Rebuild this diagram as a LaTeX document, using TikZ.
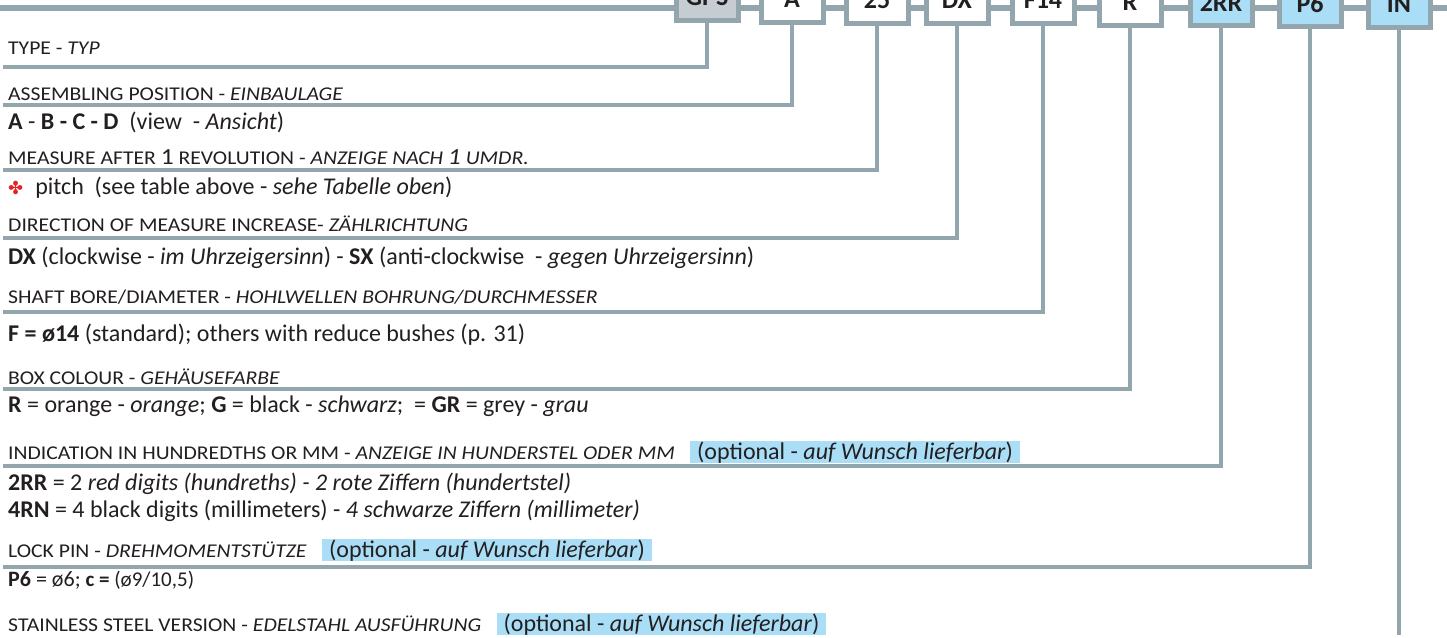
\documentclass[tikz,border=0pt]{standalone}
\usepackage{fontspec}
\setmainfont{Carlito}
\newfontfamily\headfont[FakeStretch=1.11]{Carlito}
\newfontfamily\symfont{DejaVu Sans}
\usetikzlibrary{positioning}

\definecolor{lineg}{RGB}{147,165,173}
\definecolor{boxg}{RGB}{197,205,211}
\definecolor{optblue}{RGB}{170,222,247}
\definecolor{inkc}{RGB}{35,31,32}
\definecolor{markred}{RGB}{226,35,40}

\newcommand{\hfnt}{\headfont\fontsize{19.5}{21}\selectfont}
\newcommand{\bfnt}{\fontsize{24}{27}\selectfont}
\newcommand{\bigone}[1]{{\fontsize{23}{27}\selectfont #1}}

\tikzset{
  code/.style={draw=lineg, line width=5pt, minimum width=62pt, minimum height=46pt,
    inner sep=0pt, font=\fontsize{26}{28}\selectfont\bfseries, text=inkc},
  head/.style={anchor=base west, inner sep=0pt, font=\hfnt, text=inkc},
  desc/.style={anchor=base west, inner sep=0pt, font=\bfnt, text=inkc},
  opt/.style={fill=optblue, inner xsep=7pt, inner ysep=0pt, font=\bfnt, text=inkc},
  lead/.style={draw=lineg, line width=3.3pt},
}

\begin{document}
\begin{tikzpicture}[x=1pt,y=-1pt]
    \useasboundingbox (0,0) rectangle (1447,637);
    \clip (0,0) rectangle (1447,637);
    \fill[white] (0,0) rectangle (1447,637);

    \coordinate (bar_l) at (0,8);
    \coordinate (bar_r) at (1447,8);
    \draw[lineg, line width=5.5pt] (bar_l) -- (bar_r);

    % code boxes
    \node[code, fill=boxg]    (c_0) at (707,-2.5) {GPS};
    \node[code, fill=white]   (c_1) at (792,-0.5) {A};
    \node[code, fill=white]   (c_2) at (877,0.5)  {25};
    \node[code, fill=white]   (c_3) at (957,0.5)  {DX};
    \node[code, fill=white]   (c_4) at (1043,0.5) {F14};
    \node[code, fill=white]   (c_5) at (1130,2.5) {R};
    \node[code, fill=optblue] (c_6) at (1221,2.5) {2RR};
    \node[code, fill=optblue] (c_7) at (1310,3.5) {P6};
    \node[code, fill=optblue] (c_8) at (1399,4.5) {IN};

    % headings
    \node[head] (h_0) at (8,54)  {TYPE - \textit{TYP}};
    \node[head] (h_1) at (8,100) {ASSEMBLING POSITION - \textit{EINBAULAGE}};
    \node[head] (h_2) at (8,164) {MEASURE AFTER \bigone{1} REVOLUTION - \textit{ANZEIGE NACH \bigone{1} UMDR.}};
    \node[head] (h_3) at (8,231) {DIRECTION OF MEASURE INCREASE- \textit{ZÄHLRICHTUNG}};
    \node[head] (h_4) at (8,303) {SHAFT BORE/DIAMETER - \textit{HOHLWELLEN BOHRUNG/DURCHMESSER}};
    \node[head] (h_5) at (8,384) {BOX COLOUR - \textit{GEHÄUSEFARBE}};
    \node[head] (h_6) at (8,459) {INDICATION IN HUNDREDTHS OR MM - \textit{ANZEIGE IN HUNDERSTEL ODER MM}};
    \node[head] (h_7) at (8,557) {LOCK PIN - \textit{DREHMOMENTSTÜTZE}};
    \node[head] (h_8) at (8,631) {STAINLESS STEEL VERSION - \textit{EDELSTAHL AUSFÜHRUNG}};

    \node[opt, base right=15pt of h_6] (o_6) {(optional - \textit{auf Wunsch lieferbar})};
    \node[opt, base right=15pt of h_7] (o_7) {(optional - \textit{auf Wunsch lieferbar})};
    \node[opt, base right=15pt of h_8] (o_8) {(optional - \textit{auf Wunsch lieferbar})};

    % descriptions
    \node[desc] (d_1) at (8,129) {\textbf{A} - \textbf{B - C - D}\ \ (view\ \ - \textit{Ansicht})};
    \node[desc] (d_2) at (8,194) {{\symfont\color{markred}\fontsize{18}{18}\selectfont ✤}\hspace{12pt}pitch\ \ (see table above - \textit{sehe Tabelle oben})};
    \node[desc] (d_3) at (8,264) {\textbf{DX} (clockwise - \textit{im Uhrzeigersinn}) - \textbf{SX} (anti-clockwise\ \ - \textit{gegen Uhrzeigersinn})};
    \node[desc] (d_4) at (8,341) {\textbf{F = ø14} (standard); others with reduce bushe\textit{s} (p. 31)};
    \node[desc] (d_5) at (8,412) {\textbf{R} = orange - \textit{orange}; \textbf{G} = black - \textit{schwarz};\ \ = \textbf{GR} = grey - \textit{grau}};
    \node[desc] (d_6) at (8,490) {\textbf{2RR} = 2 \textit{red digits (hundreths) - 2 rote Ziffern (hundertstel)}};
    \node[desc] (d_6b) at (8,517) {\textbf{4RN} = 4 black digits (millimeters) - \textit{4 schwarze Ziffern (millimeter)}};
    \node[desc, font=\fontsize{22}{24}\selectfont] (d_7) at (8,586) {\textbf{P6} = ø6; {\fontsize{21}{23}\selectfont\textbf{c =} (ø9/10,5)}};

    % leader lines
    \coordinate (l_0) at (3,67);
    \coordinate (l_1) at (3,105);
    \coordinate (l_2) at (3,170);
    \coordinate (l_3) at (3,238);
    \coordinate (l_4) at (3,312);
    \coordinate (l_5) at (3,389);
    \coordinate (l_6) at (3,466);
    \coordinate (l_7) at (3,567);
    \coordinate (l_8) at (1399,635);
    \draw[lead] (c_0.south) |- (l_0);
    \draw[lead] (c_1.south) |- (l_1);
    \draw[lead] (c_2.south) |- (l_2);
    \draw[lead] (c_3.south) |- (l_3);
    \draw[lead] (c_4.south) |- (l_4);
    \draw[lead] (c_5.south) |- (l_5);
    \draw[lead] (c_6.south) |- (l_6);
    \draw[lead] (c_7.south) |- (l_7);
    \draw[lead] (c_8.south) -- (l_8);
\end{tikzpicture}
\end{document}
